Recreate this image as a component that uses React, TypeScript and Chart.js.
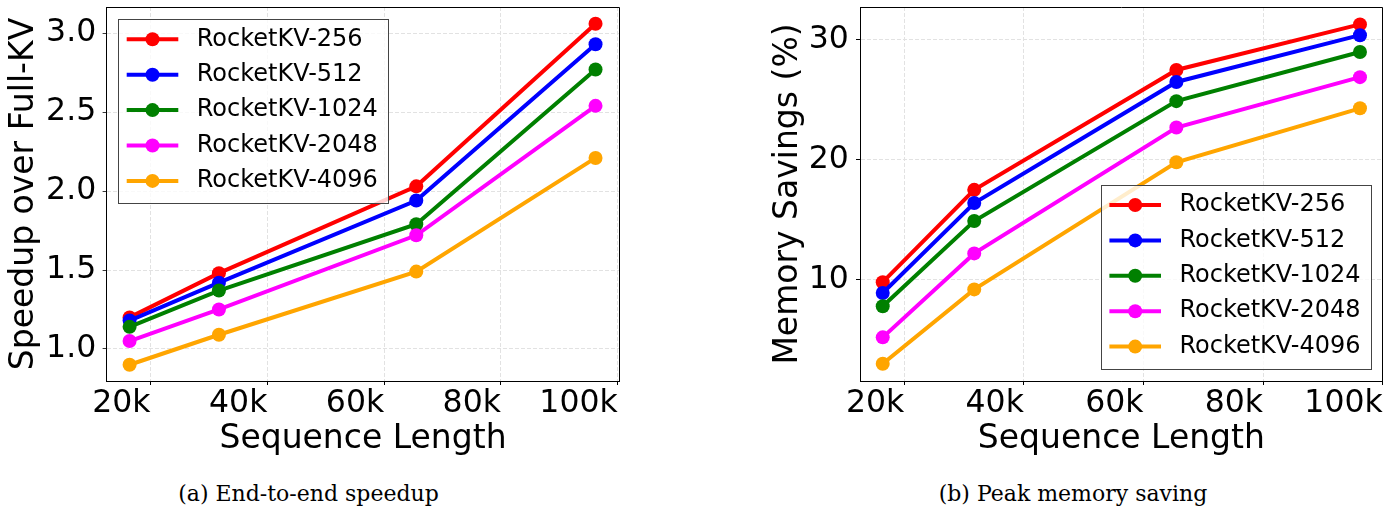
import React, { useEffect, useRef } from 'react';
import { Chart, registerables } from 'chart.js';

Chart.register(...registerables);

const FONT = "'DejaVu Sans', sans-serif";

// ---- data ----
const seqLengthK = [16.4, 31.7, 65.5, 96.2];
const xTickValuesK = [20, 40, 60, 80, 100];

const seriesLabels = ['RocketKV-256', 'RocketKV-512', 'RocketKV-1024', 'RocketKV-2048', 'RocketKV-4096'];
const seriesColors = ['#ff0000', '#0000ff', '#008000', '#ff00ff', '#ffa500'];

const speedup256 = [1.2, 1.48, 2.03, 3.06];
const speedup512 = [1.18, 1.42, 1.94, 2.93];
const speedup1024 = [1.14, 1.37, 1.79, 2.77];
const speedup2048 = [1.05, 1.25, 1.72, 2.54];
const speedup4096 = [0.9, 1.09, 1.49, 2.21];
const speedupTicks = [1.0, 1.5, 2.0, 2.5, 3.0];

const memory256 = [9.8, 17.5, 27.5, 31.3];
const memory512 = [8.9, 16.4, 26.5, 30.4];
const memory1024 = [7.8, 14.9, 24.9, 29.0];
const memory2048 = [5.2, 12.2, 22.7, 26.9];
const memory4096 = [3.0, 9.2, 19.8, 24.3];
const memoryTicks = [10, 20, 30];

// ---- helpers ----
const alignPx = (p: number) => Math.round(p - 0.5) + 0.5;

const frameLegendPlugin = {
  id: 'frameLegend',
  afterDatasetsDraw(chart: any, _args: any, opts: any) {
    const { ctx, chartArea: a } = chart;
    ctx.save();
    ctx.setLineDash([]);
    ctx.strokeStyle = '#000';
    ctx.lineWidth = 1;
    const l = alignPx(a.left), r = alignPx(a.right), t = alignPx(a.top), b = alignPx(a.bottom);
    ctx.beginPath();
    ctx.rect(l, t, r - l, b - t);
    ctx.stroke();

    const left = opts.corner === 'upper left' ? a.left + opts.insetX : a.right - opts.insetX - opts.width;
    const top = opts.corner === 'upper left' ? a.top + opts.insetY : a.bottom - opts.insetY - opts.height;
    ctx.fillStyle = 'rgba(255,255,255,0.8)';
    ctx.fillRect(left, top, opts.width, opts.height);
    ctx.strokeStyle = '#444';
    ctx.lineWidth = 1;
    ctx.strokeRect(alignPx(left), alignPx(top), Math.round(opts.width), Math.round(opts.height));

    chart.data.datasets.forEach((ds: any, i: number) => {
      const y = top + opts.firstRow + i * opts.rowGap;
      ctx.strokeStyle = ds.borderColor;
      ctx.lineWidth = opts.lineWidth;
      ctx.lineCap = 'butt';
      ctx.beginPath();
      ctx.moveTo(left + opts.lineStart, y);
      ctx.lineTo(left + opts.lineEnd, y);
      ctx.stroke();
      ctx.fillStyle = ds.backgroundColor;
      ctx.beginPath();
      ctx.arc(left + (opts.lineStart + opts.lineEnd) / 2, y, opts.markerRadius, 0, Math.PI * 2);
      ctx.fill();
      ctx.fillStyle = '#000';
      ctx.font = `${opts.fontSize}px ${FONT}`;
      ctx.textAlign = 'left';
      ctx.textBaseline = 'middle';
      ctx.fillText(ds.label, left + opts.textX, y);
    });
    ctx.restore();
  },
};

function makeDatasets(series: number[][]) {
  return series.map((vals, i) => ({
    label: seriesLabels[i],
    data: seqLengthK.map((x, j) => ({ x, y: vals[j] })),
    borderColor: seriesColors[i],
    backgroundColor: seriesColors[i],
    borderWidth: 4,
    pointRadius: 7,
    pointHoverRadius: 7,
    pointBorderWidth: 0,
    tension: 0,
    fill: false,
    order: series.length - i,
  }));
}

const gridOpts = {
  color: '#e2e2e2',
  lineWidth: 1,
  tickColor: '#000',
  tickLength: 4,
  tickWidth: 1,
  tickBorderDash: [1, 0],
};
const borderOpts = { color: '#000', width: 1, dash: [4, 2] };

function makeConfig(p: any) {
  return {
    type: 'line',
    data: { datasets: makeDatasets(p.series) },
    plugins: [frameLegendPlugin],
    options: {
      responsive: false,
      animation: false,
      events: [],
      layout: { padding: { top: p.padTop, right: p.padRight, left: 0, bottom: 0 } },
      plugins: {
        legend: { display: false },
        tooltip: { enabled: false },
        frameLegend: p.legend,
      },
      scales: {
        x: {
          type: 'linear',
          min: p.xMin,
          max: p.xMax,
          afterBuildTicks: (s: any) => {
            s.ticks = xTickValuesK.map((value) => ({ value }));
          },
          afterFit: (s: any) => {
            s.height = p.xAxisHeight;
            s.paddingLeft = 0;
            s.paddingRight = 0;
          },
          ticks: {
            callback: (v: any) => `${v}k`,
            align: 'end',
            padding: 0,
            autoSkip: false,
            maxRotation: 0,
            minRotation: 0,
            color: '#000',
            font: { family: FONT, size: 31.5 },
          },
          grid: gridOpts,
          border: borderOpts,
          title: {
            display: true,
            text: 'Sequence Length',
            color: '#000',
            font: { family: FONT, size: 33 },
            padding: { top: 0, bottom: 11 },
          },
        },
        y: {
          type: 'linear',
          min: p.yMin,
          max: p.yMax,
          afterBuildTicks: (s: any) => {
            s.ticks = p.yTicks.map((value: number) => ({ value }));
          },
          afterFit: (s: any) => {
            s.width = p.yAxisWidth;
            s.paddingTop = 0;
            s.paddingBottom = 0;
          },
          ticks: {
            callback: (v: any) => p.yFormat(v),
            padding: p.yTickPadding,
            autoSkip: false,
            color: '#000',
            font: { family: FONT, size: 31.5 },
          },
          grid: gridOpts,
          border: borderOpts,
          title: {
            display: true,
            text: p.yTitle,
            color: '#000',
            font: { family: FONT, size: 33 },
            padding: { top: p.yTitlePad, bottom: 0 },
          },
        },
      },
    },
  };
}

const legendCommon = {
  width: 270,
  height: 184,
  firstRow: 20,
  rowGap: 35.4,
  lineStart: 8.4,
  lineEnd: 60,
  textX: 78.4,
  fontSize: 24,
  markerRadius: 7,
  lineWidth: 4,
};

const speedupConfig = {
  series: [speedup256, speedup512, speedup1024, speedup2048, speedup4096],
  padTop: 6,
  padRight: 40.7,
  xMin: 12.48,
  xMax: 100.27,
  xAxisHeight: 89,
  yMin: 0.797,
  yMax: 3.166,
  yTicks: speedupTicks,
  yFormat: (v: number) => v.toFixed(1),
  yAxisWidth: 106.7,
  yTickPadding: 6.5,
  yTitle: 'Speedup over Full-KV',
  yTitlePad: 5,
  legend: { ...legendCommon, corner: 'upper left', insetX: 11.6, insetY: 12.3 },
};

const memoryConfig = {
  series: [memory256, memory512, memory1024, memory2048, memory4096],
  padTop: 6.3,
  padRight: 15.3,
  xMin: 12.6,
  xMax: 100.0,
  xAxisHeight: 89,
  yMin: 1.56,
  yMax: 32.75,
  yTicks: memoryTicks,
  yFormat: (v: number) => String(Math.round(v)),
  yAxisWidth: 160,
  yTickPadding: 7.2,
  yTitle: 'Memory Savings (%)',
  yTitlePad: 69,
  legend: { ...legendCommon, corner: 'lower right', insetX: 11.7, insetY: 12 },
};

function ChartPanel({ cfg, left, width, height }: { cfg: any; left: number; width: number; height: number }) {
  const ref = useRef<HTMLCanvasElement | null>(null);
  useEffect(() => {
    if (!ref.current) return;
    const chart = new Chart(ref.current, makeConfig(cfg) as any);
    return () => chart.destroy();
  }, [cfg]);
  return (
    <canvas
      ref={ref}
      width={width}
      height={height}
      style={{ position: 'absolute', left, top: 0, width, height, display: 'block' }}
    />
  );
}

const captionStyle: React.CSSProperties = {
  position: 'absolute',
  top: 483,
  width: 400,
  textAlign: 'center',
  fontFamily: "'DejaVu Serif', serif",
  fontSize: 22,
  lineHeight: '22px',
  color: '#000',
  whiteSpace: 'nowrap',
};

export default function App() {
  return (
    <div
      style={{
        position: 'fixed',
        left: 0,
        top: 0,
        width: 1398,
        height: 506,
        background: '#fff',
        overflow: 'hidden',
      }}
    >
      <ChartPanel cfg={speedupConfig} left={0} width={660} height={470} />
      <ChartPanel cfg={memoryConfig} left={700} width={698} height={470} />
      <div style={{ ...captionStyle, left: 108.5 }}>(a) End-to-end speedup</div>
      <div style={{ ...captionStyle, left: 873 }}>(b) Peak memory saving</div>
    </div>
  );
}
